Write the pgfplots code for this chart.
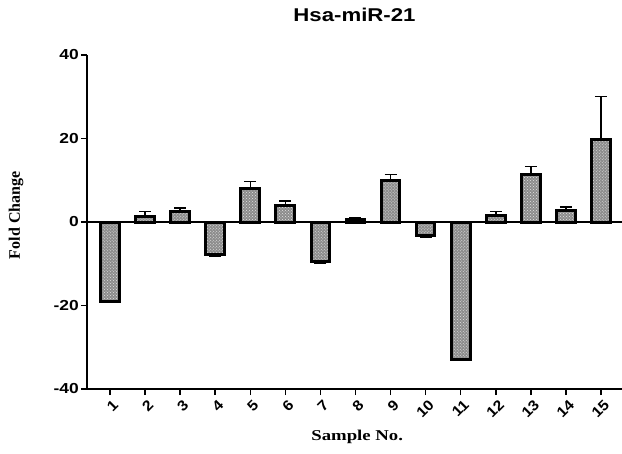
\documentclass[border=0pt]{standalone}
\usepackage{fontspec}
\usepackage{pgfplots}
\pgfplotsset{compat=1.18}
\usetikzlibrary{patterns}
\setmainfont{Liberation Sans}
\newfontfamily\sanswide[FakeStretch=1.2]{Liberation Sans}
\newfontfamily\sansmid[FakeStretch=1.1]{Liberation Sans}
\newfontfamily\serifb{Liberation Serif}
\newfontfamily\serifwide[FakeStretch=1.25]{Liberation Serif}
\definecolor{barfill}{RGB}{140,140,140}
\begin{document}
\begin{tikzpicture}
\useasboundingbox (-87bp,-65bp) rectangle (535bp,389bp);
\begin{axis}[
  at={(0,0)}, anchor=south west,
  scale only axis, width=535bp, height=334bp,
  xmin=0.344, xmax=15.6, ymin=-40, ymax=40,
  ytick={-40,-20,0,20,40},
  xtick={1,...,15},
  axis x line*=bottom, axis y line*=left,
  axis line style={line width=1.5bp},
  tick style={black, line width=1.5bp},
  tick align=outside, major tick length=6bp,
  /pgf/number format/assume math mode=true,
  yticklabel style={font=\sanswide\bfseries\fontsize{14.5bp}{16bp}\selectfont, inner sep=2bp},
  xticklabel style={font=\sansmid\bfseries\fontsize{14.5bp}{16bp}\selectfont, rotate=45, anchor=north east, inner sep=1bp, yshift=-3bp},
  extra y ticks={0}, extra y tick labels={},
  extra y tick style={grid=major, major tick length=0pt, major grid style={black, line width=1.3bp}},
  title={Hsa-miR-21},
  title style={font=\sanswide\bfseries\fontsize{18.5bp}{20bp}\selectfont, at={(0.5,1)}, anchor=base, yshift=28bp},
  xlabel={Sample No.},
  xlabel style={font=\serifwide\bfseries\fontsize{15bp}{17bp}\selectfont, at={(axis description cs:0.505,-0.144)}, anchor=center},
  ylabel={Fold Change},
  ylabel style={font=\serifb\bfseries\fontsize{16bp}{18bp}\selectfont, at={(axis description cs:-0.1327,0.52)}, anchor=center},
  ybar, bar width=18.7bp,
  error bars/error bar style={line width=1.5bp, black},
  error bars/error mark options={rotate=90, mark size=6bp, line width=1.5bp, black},
]
\addplot[ybar, bar shift=0pt, draw=black, line width=3bp, fill=barfill,
  postaction={pattern=crosshatch dots, pattern color=gray!20},
  error bars/.cd, y dir=plus, y explicit]
coordinates {
(2,1.3) +- (0,1.2)
(3,2.4) +- (0,0.9)
(5,8.1) +- (0,1.6)
(6,3.9) +- (0,1.1)
(8,0.6) +- (0,0.4)
(9,9.9) +- (0,1.5)
(12,1.5) +- (0,1.0)
(13,11.4) +- (0,1.9)
(14,2.8) +- (0,0.8)
(15,19.7) +- (0,10.4)
};
\addplot[ybar, bar shift=0pt, draw=black, line width=3bp, fill=barfill,
  postaction={pattern=crosshatch dots, pattern color=gray!20},
  error bars/.cd, y dir=minus, y explicit]
coordinates {
(1,-19.0) +- (0,0.2)
(4,-7.8) +- (0,0.4)
(7,-9.4) +- (0,0.5)
(10,-3.2) +- (0,0.5)
(11,-32.9) +- (0,0.2)
};
\end{axis}
\end{tikzpicture}
\end{document}
